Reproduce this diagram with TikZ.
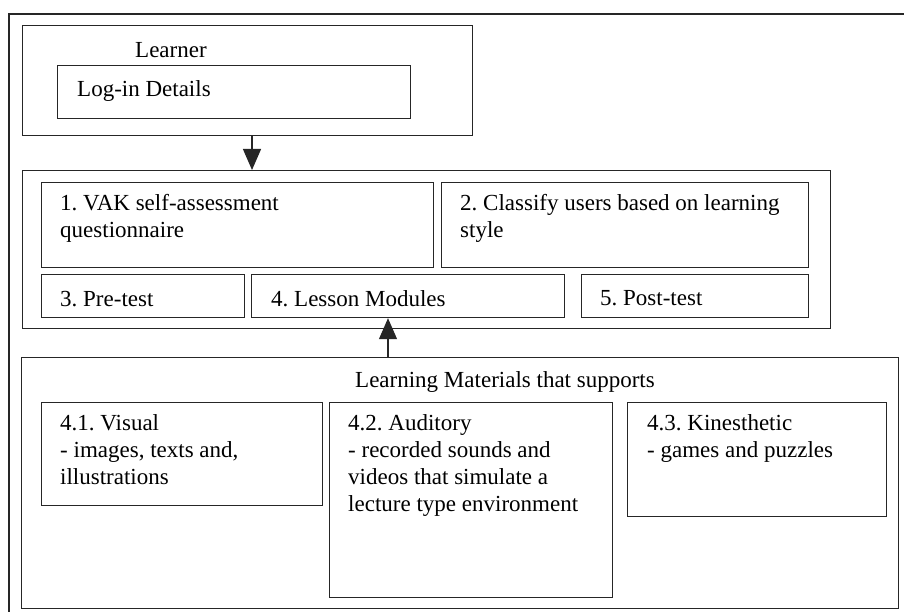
\documentclass[tikz,border=0pt]{standalone}
\usepackage{fontspec}
\setmainfont{Liberation Serif}
\frenchspacing
\usetikzlibrary{arrows.meta}
\begin{document}
\begin{tikzpicture}[x=1pt,y=-1pt,
  line/.style={draw=black!85, line width=1.2pt},
  box/.style n args={2}{line, anchor=north west, inner sep=0pt,
    minimum width=#1, minimum height=#2},
  % text is placed by the top of its first strut: baseline minus 18.9pt
  txt/.style={anchor=north west, inner sep=0pt, align=left,
    font=\fontsize{23}{27}\selectfont, execute at begin node=\strut},
  arrow/.style={line, -{Triangle[length=21pt,width=18pt]}}]
\useasboundingbox (0,0) rectangle (904,612);
\fill[white] (0,0) rectangle (904,612);

% outer frame (runs off the right and bottom edges)
\draw[line] (9,620) -- (9,14) -- (910,14);

% learner
\node[box={450pt}{110pt}] (learner) at (22,25) {};
\node[txt] (learnertxt) at (135,38.1) {Learner};
\node[box={353pt}{53pt}] (login) at (57,65) {};
\node[txt] (logintxt) at (77,77.1) {Log-in Details};

% system stages
\node[box={808pt}{158pt}] (stages) at (22,170) {};
\node[box={392pt}{85pt}] (vak) at (41,182) {};
\node[txt] (vaktxt) at (60,194.1) {1. VAK self-assessment\\questionnaire};
\node[box={367pt}{85pt}] (classify) at (441,182) {};
\node[txt] (classifytxt) at (460,194.1) {2. Classify users based on learning\\style};
\node[box={203pt}{43pt}] (pretest) at (41,274) {};
\node[txt] (pretesttxt) at (60,287.1) {3. Pre-test};
\node[box={313pt}{43pt}] (lesson) at (251,274) {};
\node[txt] (lessontxt) at (271,287.1) {4. Lesson Modules};
\node[box={227pt}{43pt}] (posttest) at (581,274) {};
\node[txt] (posttesttxt) at (600,286.1) {5. Post-test};

% learning materials
\node[box={877pt}{251pt}] (materials) at (21,357) {};
\node[txt] (materialstxt) at (355,368.1) {Learning Materials that supports};
\node[box={281pt}{103pt}] (visual) at (41,402) {};
\node[txt] (visualtxt) at (60,414.1) {4.1. Visual\\- images, texts and,\\illustrations};
\node[box={283pt}{195pt}] (auditory) at (329,402) {};
\node[txt] (auditorytxt) at (348,414.1) {4.2. Auditory\\- recorded sounds and\\videos that simulate a\\lecture type environment};
\node[box={259pt}{114pt}] (kinesthetic) at (627,402) {};
\node[txt] (kinesthetictxt) at (647,414.1) {4.3. Kinesthetic\\- games and puzzles};

% connectors
\coordinate (downx) at (252,0);
\coordinate (upx) at (388,0);
\draw[arrow] (learner.south -| downx) -- (stages.north -| downx);
\draw[arrow] (materials.north -| upx) -- (lesson.south -| upx);
\end{tikzpicture}
\end{document}
